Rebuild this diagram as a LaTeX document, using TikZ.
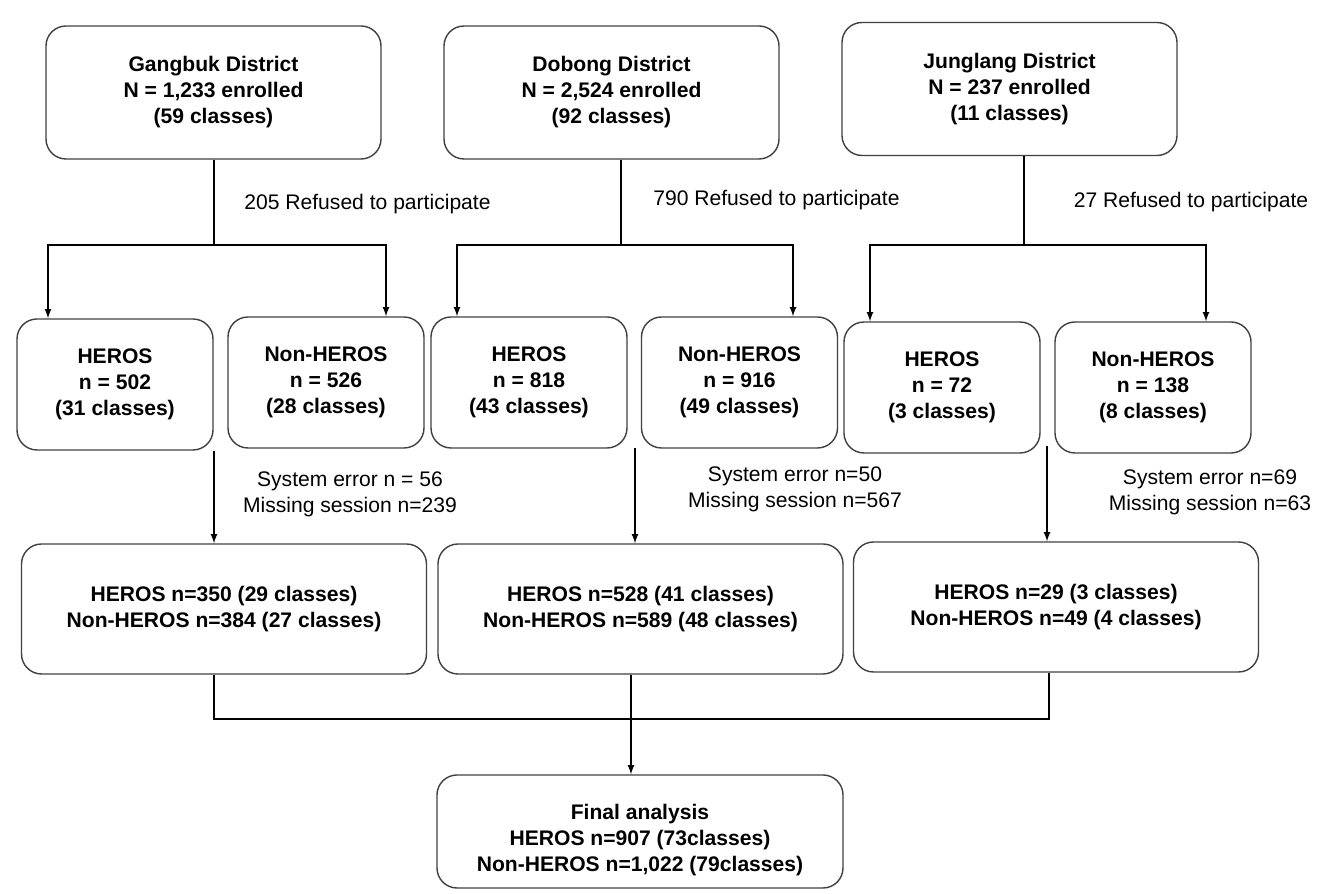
\documentclass[tikz,border=0pt]{standalone}
\usepackage{fontspec}
\setmainfont{Liberation Sans}
\usepackage{tikz}
\usetikzlibrary{
    arrows,
    shapes,
    shapes.misc
}
\definecolor{boxgray}{rgb}{0.25, 0.25, 0.25}

\begin{document}
\begin{tikzpicture}[
            font=\fontsize{12}{14.8}\selectfont,
            box/.style={draw=boxgray, thick, rectangle, rounded corners=0.4cm, align=center, inner sep=0cm, font=\fontsize{12}{14.8}\selectfont\bfseries},
            topbox/.style={box, minimum width=6.7cm, minimum height=2.66cm},
            armbox/.style={box, minimum width=3.92cm, minimum height=2.62cm},
            sumbox/.style={box, minimum width=8.1cm, minimum height=2.6cm},
            note/.style={align=center, inner sep=0cm},
            link/.style={thick},
            flow/.style={->, >=latex, thick}
        ]
            \useasboundingbox (0, 0) rectangle (26.66, 17.88);

            \node[topbox] (gangbuk) at (4.27, 16.03) {Gangbuk District\\N = 1,233 enrolled\\(59 classes)};
            \node[topbox] (dobong) at (12.23, 16.03) {Dobong District\\N = 2,524 enrolled\\(92 classes)};
            \node[topbox] (junglang) at (20.19, 16.10) {Junglang District\\N = 237 enrolled\\(11 classes)};

            \coordinate (gj) at (4.28, 12.98);
            \coordinate (gl) at (0.96, 12.98);
            \coordinate (gr) at (7.72, 12.98);
            \coordinate (dj) at (12.42, 12.98);
            \coordinate (dl) at (9.14, 12.98);
            \coordinate (dr) at (15.86, 12.98);
            \coordinate (jj) at (20.48, 12.98);
            \coordinate (jl) at (17.40, 12.98);
            \coordinate (jr) at (24.12, 12.98);

            \node[armbox] (heros1) at (2.30, 10.19) {HEROS\\n = 502\\(31 classes)};
            \node[armbox] (non1) at (6.52, 10.23) {Non-HEROS\\n = 526\\(28 classes)};
            \node[armbox] (heros2) at (10.58, 10.23) {HEROS\\n = 818\\(43 classes)};
            \node[armbox] (non2) at (14.79, 10.23) {Non-HEROS\\n = 916\\(49 classes)};
            \node[armbox] (heros3) at (18.84, 10.13) {HEROS\\n = 72\\(3 classes)};
            \node[armbox] (non3) at (23.06, 10.13) {Non-HEROS\\n = 138\\(8 classes)};

            \draw[link] (gangbuk.south -| gj) -- (gj);
            \draw[flow] (gj) -| (heros1.north -| gl);
            \draw[flow] (gj) -| (non1.north -| gr);

            \draw[link] (dobong.south -| dj) -- (dj);
            \draw[flow] (dj) -| (heros2.north -| dl);
            \draw[flow] (dj) -| (non2.north -| dr);

            \draw[link] (junglang.south -| jj) -- (jj);
            \draw[flow] (jj) -| (heros3.north -| jl);
            \draw[flow] (jj) -| (non3.north -| jr);

            \node[note] (refused1) at (7.35, 13.80) {205 Refused to participate};
            \node[note] (refused2) at (15.53, 13.88) {790 Refused to participate};
            \node[note] (refused3) at (23.82, 13.84) {27 Refused to participate};

            \node[sumbox] (sum1) at (4.48, 5.70) {HEROS n=350 (29 classes)\\Non-HEROS n=384 (27 classes)};
            \node[sumbox] (sum2) at (12.81, 5.70) {HEROS n=528 (41 classes)\\Non-HEROS n=589 (48 classes)};
            \node[sumbox] (sum3) at (21.12, 5.74) {HEROS n=29 (3 classes)\\Non-HEROS n=49 (4 classes)};

            \coordinate (dd) at (12.70, 8.92);
            \coordinate (jd) at (20.94, 8.96);

            \draw[flow] (heros1.south -| gj) -- (sum1.north -| gj);
            \draw[flow] (dd) -- (sum2.north -| dd);
            \draw[flow] (jd) -- (sum3.north -| jd);

            \node[note] (loss1) at (7.00, 7.99) {System error n = 56\\Missing session n=239};
            \node[note] (loss2) at (15.90, 8.09) {System error n=50\\Missing session n=567};
            \node[note] (loss3) at (24.20, 8.03) {System error n=69\\Missing session n=63};

            \node[box, minimum width=8.12cm, minimum height=2.26cm] (final) at (12.80, 1.25) {\rule{0pt}{0.66cm}Final analysis\\HEROS n=907 (73classes)\\Non-HEROS n=1,022 (79classes)};

            \coordinate (bl) at (4.28, 3.50);
            \coordinate (bm) at (12.62, 3.50);
            \coordinate (br) at (20.98, 3.50);

            \draw[link] (sum1.south -| bl) -- (bl) -- (br) -- (sum3.south -| br);
            \draw[flow] (sum2.south -| bm) -- (final.north -| bm);
        \end{tikzpicture}
\end{document}
